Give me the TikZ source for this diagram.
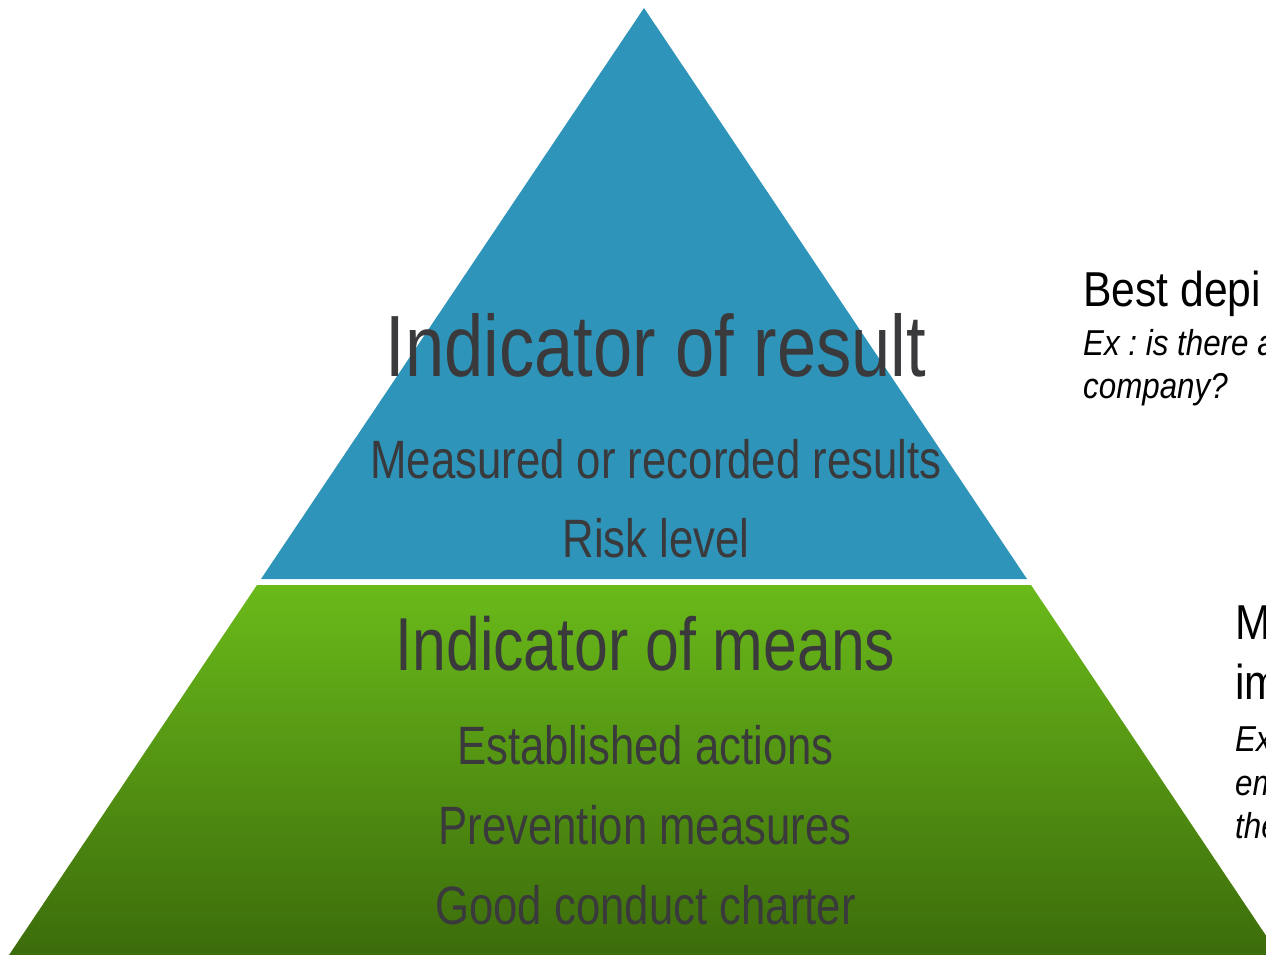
\documentclass[tikz,border=0pt]{standalone}
\usepackage{fontspec}
\setmainfont{Liberation Sans}
\newfontfamily\nar[FakeStretch=0.81]{Liberation Sans}
\newfontfamily\rnar[FakeStretch=0.87]{Liberation Sans}
\frenchspacing
\definecolor{pyrblue}{HTML}{2E94B9}
\definecolor{greentop}{HTML}{6ABA1A}
\definecolor{greenbot}{HTML}{3C6C0B}
\definecolor{txtgray}{HTML}{3A3A3C}
\tikzset{
  big/.style={inner sep=0pt, anchor=base, text=txtgray, font=\nar\fontsize{87}{100}\selectfont},
  mid/.style={inner sep=0pt, anchor=base, text=txtgray, font=\nar\fontsize{75}{86}\selectfont},
  sub/.style={inner sep=0pt, anchor=base, text=txtgray, font=\nar\fontsize{54}{62}\selectfont},
  sidehead/.style={inner sep=0pt, anchor=base west, text=black, font=\rnar\fontsize{49}{58}\selectfont},
  sideex/.style={inner sep=0pt, anchor=base west, text=black, font=\rnar\itshape\fontsize{36}{43}\selectfont},
}
\begin{document}
\begin{tikzpicture}[x=1pt,y=-1pt]
\useasboundingbox (0,0) rectangle (1266,955);
\clip (0,0) rectangle (1266,955);
\fill[white] (0,0) rectangle (1266,955);
% top triangle
\fill[pyrblue] (644,8) -- (261,579) -- (1027,579) -- cycle;
% bottom trapezoid
\shade[top color=greentop, bottom color=greenbot] (257,585) -- (1031,585) -- (1279,955) -- (9,955) -- cycle;
% texts in pyramid
\node[big] (res) at (656,376) {Indicator of result};
\node[sub] (meas) at (656,478) {Measured or recorded results};
\node[sub] (risk) at (656,557) {Risk level};
\node[mid] (means) at (645.5,670) {Indicator of means};
\node[sub] (est) at (645.5,764) {Established actions};
\node[sub] (prev) at (645,844) {Prevention measures};
\node[sub] (good) at (645.5,924) {Good conduct charter};
% side texts
\node[sidehead] (best) at (1083,306) {Best depi};
\node[sideex] (ex1) at (1083,355) {Ex : is there a};
\node[sideex] (comp) at (1083,398) {company?};
\node[sidehead] (m) at (1235,639) {M};
\node[sidehead] (im) at (1235,699) {im};
\node[sideex] (ex2) at (1235,751) {Ex};
\node[sideex] (em) at (1235,795) {em};
\node[sideex] (the) at (1235,838) {the};
\end{tikzpicture}
\end{document}
